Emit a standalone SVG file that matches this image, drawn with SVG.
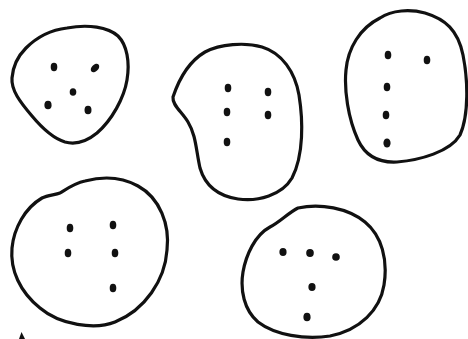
<svg xmlns="http://www.w3.org/2000/svg" width="468" height="339" viewBox="0 0 468 339">
<style>
.blob{fill:none;stroke:#111;stroke-width:3.2;stroke-linejoin:round;stroke-linecap:round}
.dot{fill:#111}
</style>
<rect width="468" height="339" fill="#fff"/>
<g id="cell1">
<path class="blob" d="M67,28 C88,24 108,27 118,36 C127,45 130,62 127,80 C124,98 112,120 97,133 C86,142 76,145 65,142 C52,138 42,128 32,116 C20,102 11,90 12,78 C13,65 18,56 26,48 C36,38 50,30 67,28 Z"/>
<ellipse class="dot" cx="54" cy="67" rx="3.3" ry="4.2"/>
<ellipse class="dot" cx="95" cy="68" rx="3.3" ry="5" transform="rotate(45 95 68)"/>
<ellipse class="dot" cx="73" cy="92" rx="3.3" ry="3.8"/>
<ellipse class="dot" cx="48" cy="105" rx="3.6" ry="4.3"/>
<ellipse class="dot" cx="88" cy="110" rx="3.5" ry="4.3"/>
</g>
<g id="cell2">
<path class="blob" d="M173,97 C178,82 188,62 205,52 C220,44 245,42 262,47 C282,53 295,72 299,95 C303,120 304,155 292,178 C282,195 258,202 238,199 C218,196 205,185 200,168 C196,150 196,135 188,122 C182,112 172,105 173,97 Z"/>
<ellipse class="dot" cx="228" cy="88" rx="3.3" ry="4.2"/>
<ellipse class="dot" cx="268" cy="92" rx="3.3" ry="4.2"/>
<ellipse class="dot" cx="227" cy="112" rx="3.3" ry="4.2"/>
<ellipse class="dot" cx="268" cy="115" rx="3.3" ry="4.2"/>
<ellipse class="dot" cx="227" cy="142" rx="3.3" ry="4.2"/>
</g>
<g id="cell3">
<path class="blob" d="M380,18 C392,10 410,9 425,13 C445,19 458,30 463,55 C468,80 469,115 460,135 C450,152 420,160 397,162 C378,163 365,155 358,140 C348,118 344,90 346,70 C348,48 360,28 380,18 Z"/>
<ellipse class="dot" cx="388" cy="55" rx="3.3" ry="4.3"/>
<ellipse class="dot" cx="427" cy="60" rx="3.3" ry="4.3"/>
<ellipse class="dot" cx="387" cy="87" rx="3.3" ry="4.3"/>
<ellipse class="dot" cx="386" cy="115" rx="3.3" ry="4.3"/>
<ellipse class="dot" cx="387" cy="143" rx="3.6" ry="4.6"/>
</g>
<g id="cell4">
<path class="blob" d="M60,193 C68,188 75,183 85,181 C100,177 120,176 138,186 C160,198 170,225 167,250 C165,280 145,310 115,322 C95,330 60,325 40,308 C20,292 10,270 12,248 C14,228 25,208 42,198 C48,195 55,195 60,193 Z"/>
<ellipse class="dot" cx="70" cy="228" rx="3.3" ry="4.3"/>
<ellipse class="dot" cx="113" cy="225" rx="3.3" ry="4.3"/>
<ellipse class="dot" cx="68" cy="253" rx="3.3" ry="4.3"/>
<ellipse class="dot" cx="115" cy="253" rx="3.3" ry="4.3"/>
<ellipse class="dot" cx="113" cy="288" rx="3.3" ry="4.3"/>
</g>
<g id="cell5">
<path class="blob" d="M270,227 C280,222 288,213 298,208 C320,203 348,208 365,222 C382,236 388,260 384,285 C380,310 360,330 330,336 C305,340 275,335 258,322 C244,310 240,290 243,272 C246,255 255,235 270,227 Z"/>
<ellipse class="dot" cx="283" cy="252" rx="3.6" ry="4"/>
<ellipse class="dot" cx="310" cy="253" rx="3.8" ry="4"/>
<ellipse class="dot" cx="336" cy="257" rx="3.8" ry="3.8"/>
<ellipse class="dot" cx="312" cy="287" rx="3.6" ry="4"/>
<ellipse class="dot" cx="307" cy="317" rx="3.6" ry="4.3"/>
</g>
<path class="dot" d="M19,339 L21.5,332 L25,339 Z"/>
</svg>
